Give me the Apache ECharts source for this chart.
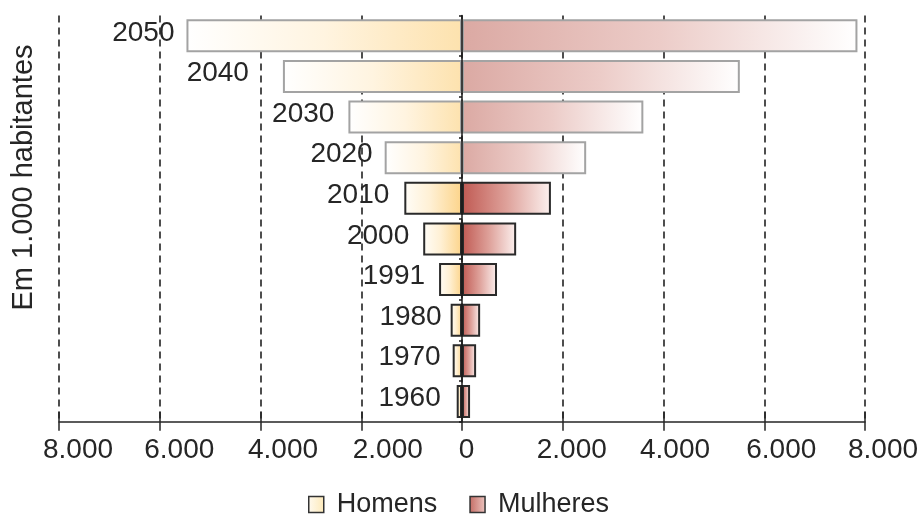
<!DOCTYPE html>
<html>
<head>
<meta charset="utf-8">
<script src="https://cdn.jsdelivr.net/npm/echarts@6/dist/echarts.min.js"></script>
<style>
  html, body { margin: 0; padding: 0; background: #ffffff; }
  #chart { width: 923px; height: 516px; }
</style>
</head>
<body>
<div id="chart"></div>
<script>
// Population by sex, in thousands of inhabitants (bottom to top)
const years = ['1960', '1970', '1980', '1991', '2000', '2010', '2020', '2030', '2040', '2050'];
const homens = [105, 185, 225, 455, 770, 1145, 1535, 2255, 3555, 5470];
const mulheres = [160, 280, 360, 695, 1075, 1765, 2465, 3600, 5515, 7850];
// Years from 2020 on are projections
const projected = [false, false, false, false, false, false, true, true, true, true];

const axisMin = -8000;
const axisMax = 8000;
const axisStep = 2000;
const seriesNames = ['Homens', 'Mulheres'];
const yAxisTitle = 'Em 1.000 habitantes';

// ---- styling ----
const FONT = 'Liberation Sans, Arial, Helvetica, sans-serif';
const INK = '#262626';

// horizontal nudge of each tick label relative to its tick (px)
const tickShift = { '-8000': 19, '-6000': 19.5, '-4000': 22.5, '-2000': 26.5, '0': 4.5,
                    '2000': 9, '4000': 11.5, '6000': 17, '8000': 18 };
// gap between a year label and the left end of its bar (px)
const yearGap = { '1960': 16, '1970': 12, '1980': 9, '1991': 14, '2000': 14,
                  '2010': 15, '2020': 12, '2030': 14, '2040': 34, '2050': 12 };

function grad(stops) {
  return new echarts.graphic.LinearGradient(0, 0, 1, 0,
    stops.map(s => ({ offset: s[0], color: s[1] })));
}
const menPast = () => grad([[0, '#fffdf8'], [0.45, '#fff0d4'], [1, '#fcd48a']]);
const menProj = () => grad([[0, '#ffffff'], [0.5, '#fff4e0'], [1, '#fde2ae']]);
const womenPast = () => grad([[0, '#c05a53'], [0.5, '#dea19a'], [1, '#fcf1ef']]);
const womenProj = () => grad([[0, '#dba9a3'], [0.5, '#ecccc8'], [1, '#ffffff']]);

function fmt(v) {
  return String(Math.abs(v)).replace(/\B(?=(\d{3})+(?!\d))/g, '.');
}
const tickKeys = Object.keys(tickShift);
const tickRich = {};
tickKeys.forEach((k, i) => {
  tickRich['t' + i] = { padding: [0, 0, 0, 2 * tickShift[k]], fontSize: 28, color: INK, fontFamily: FONT };
});

const menData = homens.map((v, i) => ({
  value: -v,
  itemStyle: {
    color: projected[i] ? menProj() : menPast(),
    borderColor: projected[i] ? '#a3a3a3' : '#2a2a2a',
    borderWidth: 2
  },
  label: { distance: yearGap[years[i]] }
}));
const womenData = mulheres.map((v, i) => ({
  value: v,
  itemStyle: {
    color: projected[i] ? womenProj() : womenPast(),
    borderColor: projected[i] ? '#a3a3a3' : '#2a2a2a',
    borderWidth: 2
  }
}));

const chart = echarts.init(document.getElementById('chart'), null, { renderer: 'canvas' });
chart.setOption({
  animation: false,
  textStyle: { fontFamily: FONT, color: INK },
  grid: { left: 59, right: 58, top: 15.5, bottom: 94.3, containLabel: false, outerBoundsMode: 'none' },
  legend: {
    left: 303, top: 486,
    icon: 'rect', itemWidth: 15, itemHeight: 16, itemGap: 32,
    textStyle: { fontSize: 27, color: INK, fontFamily: FONT, padding: [0, 0, 0, 8] },
    data: [
      { name: seriesNames[0], itemStyle: { color: grad([[0, '#fffaf0'], [1, '#fde9b8']]), borderColor: '#333', borderWidth: 1.5 } },
      { name: seriesNames[1], itemStyle: { color: grad([[0, '#c46b63'], [1, '#ecc6c1']]), borderColor: '#333', borderWidth: 1.5 } }
    ]
  },
  xAxis: [
    {
      type: 'value', min: axisMin, max: axisMax, interval: axisStep,
      axisLine: { show: true, lineStyle: { color: INK, width: 1.5 } },
      axisTick: { show: true, length: 9, lineStyle: { color: INK, width: 1.5 } },
      splitLine: { show: true, lineStyle: { color: '#222', width: 1.6, type: [7, 5] } },
      axisLabel: {
        margin: 15, fontSize: 28, color: INK, fontFamily: FONT,
        formatter: v => '{t' + tickKeys.indexOf(String(v)) + '|' + fmt(v) + '}',
        rich: tickRich
      }
    },
    {
      type: 'value', position: 'bottom', min: axisMin, max: axisMax, interval: axisStep,
      axisLine: { show: false },
      axisTick: { show: true, inside: true, length: 10, lineStyle: { color: INK, width: 1.5 } },
      axisLabel: { show: false },
      splitLine: { show: false }
    }
  ],
  yAxis: {
    type: 'category', data: years, z: 10,
    axisLine: { show: true, onZero: true, lineStyle: { color: '#1a1a1a', width: 1.5 } },
    axisTick: { show: true, length: 3, lineStyle: { color: '#1a1a1a', width: 1.5 } },
    axisLabel: { show: false },
    splitLine: { show: false }
  },
  graphic: [{
    type: 'text', x: 24, y: 177.5, rotation: Math.PI / 2,
    style: { text: yAxisTitle, font: '29px ' + FONT, fill: INK, align: 'center', verticalAlign: 'middle' }
  }],
  series: [
    {
      name: seriesNames[0], type: 'bar', stack: 'pop', barWidth: 33, data: menData,
      itemStyle: { color: grad([[0, '#fffaf0'], [1, '#fde9b8']]) },
      label: {
        show: true, position: 'left', formatter: '{b}', offset: [0, -3],
        fontSize: 28, color: INK, fontFamily: FONT
      }
    },
    {
      name: seriesNames[1], type: 'bar', stack: 'pop', barWidth: 33, data: womenData,
      itemStyle: { color: grad([[0, '#c46b63'], [1, '#ecc6c1']]) }
    }
  ]
});
</script>
</body>
</html>
